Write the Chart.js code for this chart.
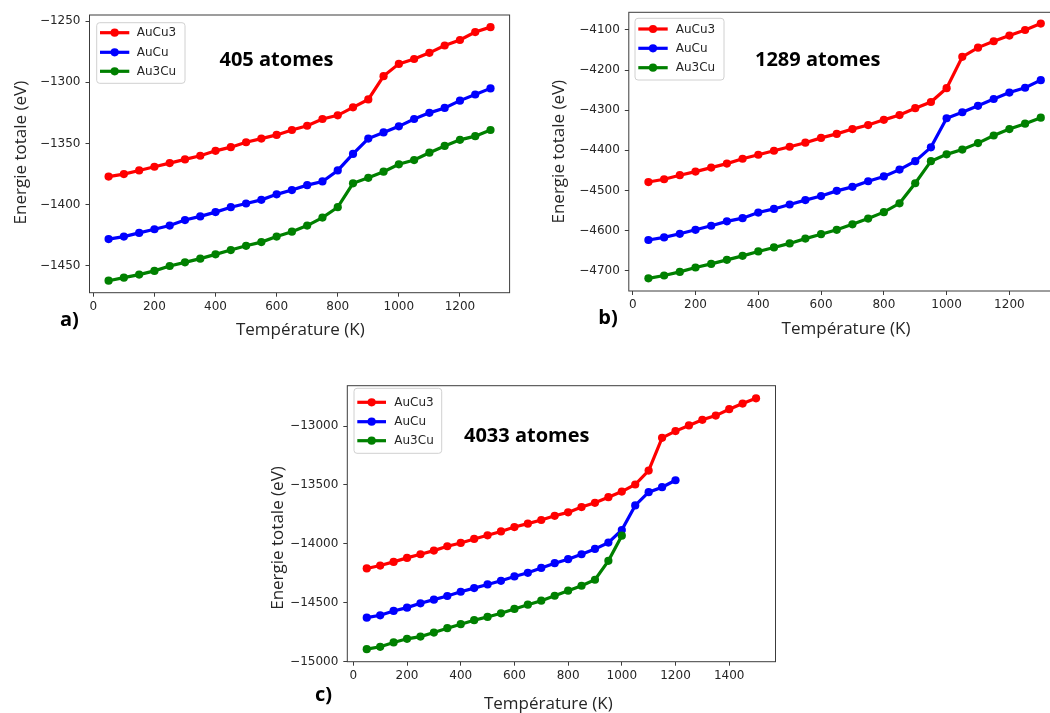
<!DOCTYPE html>
<html><head><meta charset="utf-8">
<script src="https://cdn.jsdelivr.net/npm/chart.js@4/dist/chart.umd.min.js"></script>
<style>
html,body{margin:0;padding:0;background:#fff;width:1050px;height:713px;overflow:hidden;position:relative}
canvas{position:absolute}
</style></head><body>
<canvas id="ca" width="530" height="345" style="left:0;top:0"></canvas>
<canvas id="cb" width="540" height="345" style="left:530px;top:0"></canvas>
<canvas id="cc" width="530" height="333" style="left:260px;top:380px"></canvas>
<script>
// ---------- data ----------
const seriesLabels = ['AuCu3', 'AuCu', 'Au3Cu'];
const seriesColors = ['#ff0000', '#0000ff', '#008000'];

// Panel a) 405 atomes
const tempA = [50,100,150,200,250,300,350,400,450,500,550,600,650,700,750,800,850,900,950,1000,1050,1100,1150,1200,1250,1300];
const a_AuCu3 = [-1377,-1375,-1372,-1369,-1366,-1363,-1360,-1356,-1353,-1349,-1346,-1343,-1339,-1335.5,-1330,-1327,-1320.5,-1314,-1295,-1285,-1281,-1276,-1270,-1265.5,-1259,-1255];
const a_AuCu  = [-1428,-1426,-1423,-1420,-1417,-1412.5,-1409.5,-1406,-1402,-1399,-1396,-1391.5,-1388,-1384,-1381,-1372,-1358.5,-1346,-1341,-1336,-1330,-1325,-1321,-1315,-1310,-1305];
const a_Au3Cu = [-1462,-1459.5,-1457,-1454,-1450,-1447,-1444,-1440.5,-1437,-1433.5,-1430.5,-1426,-1422,-1417,-1410.5,-1402,-1382.5,-1378,-1373,-1367,-1363.5,-1357.5,-1352,-1347,-1344,-1339];

// Panel b) 1289 atomes
const tempB = [50,100,150,200,250,300,350,400,450,500,550,600,650,700,750,800,850,900,950,1000,1050,1100,1150,1200,1250,1300];
const b_AuCu3 = [-4479,-4472,-4462,-4453,-4443,-4433,-4421,-4411,-4401,-4391,-4381,-4369,-4359,-4347,-4337,-4324,-4312,-4295,-4279.5,-4245,-4167,-4144,-4128,-4114,-4100,-4084];
const b_AuCu  = [-4623.5,-4617,-4608,-4598,-4588,-4577,-4569,-4555,-4546,-4535,-4524,-4514,-4501,-4491,-4477,-4465,-4448,-4427,-4392.5,-4320,-4305,-4289,-4272,-4256,-4244,-4225];
const b_Au3Cu = [-4719,-4712,-4703,-4692,-4683,-4673,-4663,-4652,-4642,-4632,-4620,-4609,-4598,-4584.5,-4570,-4554,-4532,-4482,-4427,-4410,-4398,-4382,-4363,-4347,-4333.5,-4318.5];

// Panel c) 4033 atomes
const tempC = [50,100,150,200,250,300,350,400,450,500,550,600,650,700,750,800,850,900,950,1000,1050,1100,1150,1200,1250,1300,1350,1400,1450,1500];
const c_AuCu3 = [-14210,-14185,-14154,-14120,-14089,-14058,-14021,-13993,-13959,-13928,-13895,-13858,-13829,-13798,-13762,-13733,-13688,-13652,-13604,-13556,-13496,-13378,-13099,-13042,-12994,-12946,-12910,-12856,-12808,-12763];
const c_AuCu  = [-14628,-14608,-14571,-14543,-14506,-14475,-14444,-14408,-14377,-14346,-14315,-14278,-14247,-14205,-14165,-14131,-14089,-14044,-13990,-13883,-13674,-13561,-13519,-13460];
const c_Au3Cu = [-14896,-14876,-14839,-14808,-14789,-14755,-14718,-14684,-14650,-14622,-14591,-14554,-14518,-14484,-14442,-14399,-14357,-14306,-14145,-13931];

// tick labels
const xTicksAB = [0,200,400,600,800,1000,1200];
const xTicksC  = [0,200,400,600,800,1000,1200,1400];
const yTicksA = [-1450,-1400,-1350,-1300,-1250];
const yTicksB = [-4700,-4600,-4500,-4400,-4300,-4200,-4100];
const yTicksC = [-15000,-14500,-14000,-13500,-13000];

const xTitle = 'Température (K)';
const yTitle = 'Energie totale (eV)';

// ---------- helpers ----------
const fmt = v => (v < 0 ? '\u2212' + Math.abs(v) : String(v));
const AXIS_COLOR = '#3c3c3c';
const TEXT_COLOR = '#262626';
const MARKER_R = 4.1;

const decor = {
  id: 'decor',
  afterDatasetsDraw(chart, args, opts) {
    const ctx = chart.ctx, a = chart.chartArea;
    ctx.save();
    // frame (all four spines)
    ctx.strokeStyle = AXIS_COLOR; ctx.lineWidth = 1;
    ctx.strokeRect(a.left, a.top, a.right - a.left, a.bottom - a.top);
    // legend
    const L = opts.legend;
    ctx.beginPath();
    ctx.roundRect(L.x, L.y, L.w, L.h, 3);
    ctx.fillStyle = 'rgba(255,255,255,0.85)'; ctx.fill();
    ctx.strokeStyle = '#d0d0d0'; ctx.lineWidth = 1; ctx.stroke();
    chart.data.datasets.forEach((ds, i) => {
      const y = L.rows[i];
      ctx.strokeStyle = ds.borderColor; ctx.lineWidth = 3.2;
      ctx.beginPath(); ctx.moveTo(L.x0, y); ctx.lineTo(L.x1, y); ctx.stroke();
      ctx.fillStyle = ds.borderColor;
      ctx.beginPath(); ctx.arc((L.x0 + L.x1) / 2, y, MARKER_R, 0, Math.PI * 2); ctx.fill();
      ctx.fillStyle = TEXT_COLOR; ctx.font = '12px "DejaVu Sans"';
      ctx.textAlign = 'left'; ctx.textBaseline = 'middle';
      ctx.fillText(ds.label, L.tx, y + 0.5);
    });
    // free texts
    opts.texts.forEach(t => {
      ctx.save();
      ctx.font = t.font; ctx.fillStyle = t.color || TEXT_COLOR;
      ctx.textAlign = t.align || 'left'; ctx.textBaseline = 'alphabetic';
      ctx.translate(t.x, t.y);
      if (t.rotate) ctx.rotate(-Math.PI / 2);
      ctx.fillText(t.text, 0, 0);
      ctx.restore();
    });
    ctx.restore();
  }
};

function makeChart(id, p) {
  const datasets = p.series.map((vals, i) => ({
    label: seriesLabels[i],
    data: vals.map((v, k) => ({x: p.temps[k], y: v})),
    borderColor: seriesColors[i],
    backgroundColor: seriesColors[i],
    pointBackgroundColor: seriesColors[i],
    pointBorderWidth: 0,
    pointRadius: MARKER_R,
    borderWidth: 3.2,
    tension: 0,
    order: 3 - i
  }));
  const tickFont = {family: 'DejaVu Sans', size: 12};
  return new Chart(document.getElementById(id), {
    type: 'line',
    data: {datasets},
    plugins: [decor],
    options: {
      responsive: false, animation: false, devicePixelRatio: 1,
      layout: {padding: {left: 0, top: p.area.top, right: p.area.right, bottom: 0}},
      plugins: {
        legend: {display: false}, tooltip: {enabled: false}, title: {display: false},
        decor: {legend: p.legend, texts: p.texts}
      },
      scales: {
        x: {
          type: 'linear', min: p.xr[0], max: p.xr[1],
          afterBuildTicks: s => { s.ticks = p.xt.map(v => ({value: v})); },
          afterFit: s => { s.height = p.area.xh; s.paddingLeft = 0; s.paddingRight = 0; },
          grid: {display: true, drawOnChartArea: false, drawTicks: true, tickLength: 4, color: AXIS_COLOR, tickColor: AXIS_COLOR},
          border: {display: false},
          ticks: {font: tickFont, color: TEXT_COLOR, padding: 3, maxRotation: 0, autoSkip: false, callback: fmt}
        },
        y: {
          type: 'linear', min: p.yr[0], max: p.yr[1],
          afterBuildTicks: s => { s.ticks = p.yt.map(v => ({value: v})); },
          afterFit: s => { s.width = p.area.yw; s.paddingTop = 0; s.paddingBottom = 0; },
          grid: {display: true, drawOnChartArea: false, drawTicks: true, tickLength: 4, color: AXIS_COLOR, tickColor: AXIS_COLOR},
          border: {display: false},
          ticks: {font: tickFont, color: TEXT_COLOR, padding: 5, autoSkip: false, callback: fmt}
        }
      }
    }
  });
}

const titleFont = '17px "Open Sans"';
const boldFont = '700 20px "Open Sans"';

makeChart('ca', {
  temps: tempA, series: [a_AuCu3, a_AuCu, a_Au3Cu],
  xr: [-12.5, 1362.5], yr: [-1471.8, -1245.1], xt: xTicksAB, yt: yTicksA,
  area: {top: 15, right: 20.4, yw: 89.5, xh: 52.3},
  legend: {x: 96.7, y: 22.7, w: 88.3, h: 60.6, rows: [32.7, 52.3, 71.3], x0: 100, x1: 129.3, tx: 136.7},
  texts: [
    {text: yTitle, x: 26, y: 152.6, rotate: true, align: 'center', font: titleFont},
    {text: xTitle, x: 300.3, y: 335, align: 'center', font: titleFont},
    {text: 'a)', x: 60, y: 326, font: boldFont, color: '#000'},
    {text: '405 atomes', x: 219.5, y: 65.7, font: boldFont, color: '#000'}
  ]
});

makeChart('cb', {
  temps: tempB, series: [b_AuCu3, b_AuCu, b_Au3Cu],
  xr: [-12.5, 1362.5], yr: [-4750.6, -4055.9], xt: xTicksAB, yt: yTicksB,
  area: {top: 12.3, right: 9.6, yw: 98.8, xh: 54},
  legend: {x: 105, y: 18.3, w: 89, h: 61.7, rows: [29, 48.3, 67.7], x0: 108.3, x1: 137.7, tx: 145.7},
  texts: [
    {text: yTitle, x: 34.3, y: 151.7, rotate: true, align: 'center', font: titleFont},
    {text: xTitle, x: 316, y: 334.3, align: 'center', font: titleFont},
    {text: 'b)', x: 68.3, y: 324, font: boldFont, color: '#000'},
    {text: '1289 atomes', x: 225, y: 65.7, font: boldFont, color: '#000'}
  ]
});

makeChart('cc', {
  temps: tempC, series: [c_AuCu3, c_AuCu, c_Au3Cu],
  xr: [-22.5, 1572.5], yr: [-15002.7, -12656], xt: xTicksC, yt: yTicksC,
  area: {top: 5.7, right: 14.5, yw: 87.3, xh: 51.3},
  legend: {x: 94, y: 8.3, w: 87.7, h: 65, rows: [22.3, 41.7, 60.7], x0: 97.3, x1: 126, tx: 134.3},
  texts: [
    {text: yTitle, x: 23.3, y: 158, rotate: true, align: 'center', font: titleFont},
    {text: xTitle, x: 288.3, y: 328.5, align: 'center', font: titleFont},
    {text: 'c)', x: 55, y: 321, font: boldFont, color: '#000'},
    {text: '4033 atomes', x: 204, y: 61.7, font: boldFont, color: '#000'}
  ]
});
</script>
</body></html>
